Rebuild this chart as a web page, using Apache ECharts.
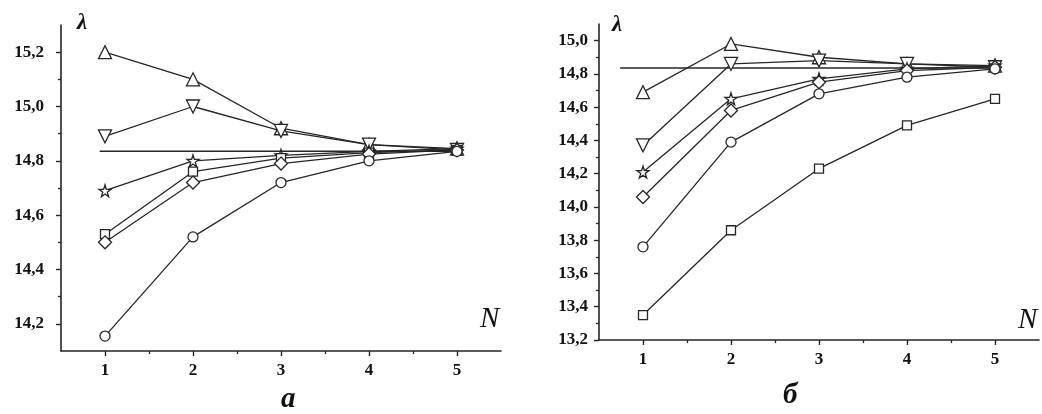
<!DOCTYPE html>
<html>
<head>
<meta charset="utf-8">
<script src="https://cdn.jsdelivr.net/npm/echarts@6/dist/echarts.min.js"></script>
<style>
  html, body { margin: 0; padding: 0; background: #fff; }
  #chart { width: 1042px; height: 414px; }
</style>
</head>
<body>
<div id="chart"></div>
<script>
// Number of layers N
const N = [1, 2, 3, 4, 5];

// Panel "a" values of λ
const aTriUp   = [15.20, 15.10, 14.92, 14.86, 14.845];
const aTriDown = [14.89, 15.00, 14.91, 14.86, 14.84];
const aStar    = [14.69, 14.80, 14.82, 14.835, 14.845];
const aSquare  = [14.53, 14.76, 14.81, 14.83, 14.84];
const aDiamond = [14.50, 14.72, 14.79, 14.825, 14.84];
const aCircle  = [14.155, 14.52, 14.72, 14.80, 14.835];

// Panel "б" values of λ
const bTriUp   = [14.69, 14.98, 14.90, 14.86, 14.85];
const bTriDown = [14.37, 14.86, 14.88, 14.86, 14.84];
const bStar    = [14.21, 14.65, 14.77, 14.83, 14.85];
const bDiamond = [14.06, 14.58, 14.75, 14.82, 14.84];
const bCircle  = [13.76, 14.39, 14.68, 14.78, 14.83];
const bSquare  = [13.35, 13.86, 14.23, 14.49, 14.65];

// Limiting level (horizontal reference line) and where it starts on each panel
const refLevel = 14.835;
const refStartA = 0.94;
const refStartB = 0.74;

// Tick labels
const xTicks = [1, 2, 3, 4, 5];
const xMinor = [1.5, 2.5, 3.5, 4.5];
const aYTicks = [14.2, 14.4, 14.6, 14.8, 15.0, 15.2];
const aYMinor = [14.3, 14.5, 14.7, 14.9, 15.1];
const bYTicks = [13.2, 13.4, 13.6, 13.8, 14.0, 14.2, 14.4, 14.6, 14.8, 15.0];
const bYMinor = [13.3, 13.5, 13.7, 13.9, 14.1, 14.3, 14.5, 14.7, 14.9];

const STAR = 'path://M50,0 L61,35 L98,35 L68,57 L79,91 L50,70 L21,91 L32,57 L2,35 L39,35 Z';
const INK = '#262626';
const FONT = 'Liberation Serif';

const pair = (ys) => N.map((n, i) => [n, ys[i]]);
const comma = (v) => v.toFixed(1).replace('.', ',');

function curve(ys, symbol, size, xi, extra) {
  return Object.assign({
    type: 'line',
    xAxisIndex: xi, yAxisIndex: xi,
    data: pair(ys),
    symbol: symbol,
    symbolSize: size,
    showAllSymbol: true,
    lineStyle: { color: INK, width: 1.3 },
    itemStyle: { color: '#fff', borderColor: INK, borderWidth: 1.3 },
    emphasis: { disabled: true },
    z: 3
  }, extra || {});
}

function refLine(x0, xi) {
  return {
    type: 'line', xAxisIndex: xi, yAxisIndex: xi,
    data: [[x0, refLevel], [5, refLevel]],
    symbol: 'none',
    lineStyle: { color: INK, width: 1.5 },
    z: 2
  };
}

function xAxisMain(gi) {
  return {
    type: 'value', gridIndex: gi, position: 'bottom', min: 0.5, max: 5.5,
    splitLine: { show: false },
    axisLine: { show: true, onZero: false, lineStyle: { color: INK, width: 1.6 } },
    axisTick: { show: true, customValues: xTicks, length: 5, lineStyle: { color: INK, width: 1.4 } },
    axisLabel: { customValues: xTicks, color: '#111', fontFamily: FONT, fontWeight: 'bold', fontSize: 17, margin: 11 }
  };
}
function xAxisMinor(gi) {
  return {
    type: 'value', gridIndex: gi, position: 'bottom', min: 0.5, max: 5.5,
    splitLine: { show: false },
    axisLine: { show: false, onZero: false },
    axisTick: { show: true, customValues: xMinor, length: 3, lineStyle: { color: INK, width: 1.3 } },
    axisLabel: { show: false }
  };
}
function yAxisMain(gi, min, max, ticks, margin) {
  return {
    type: 'value', gridIndex: gi, position: 'left', min: min, max: max,
    splitLine: { show: false },
    axisLine: { show: true, onZero: false, lineStyle: { color: INK, width: 1.6 } },
    axisTick: { show: true, customValues: ticks, length: 5, lineStyle: { color: INK, width: 1.4 } },
    axisLabel: { customValues: ticks, formatter: comma, color: '#111', fontFamily: FONT, fontWeight: 'bold', fontSize: 17, margin: margin }
  };
}
function yAxisMinor(gi, min, max, ticks) {
  return {
    type: 'value', gridIndex: gi, position: 'left', min: min, max: max,
    splitLine: { show: false },
    axisLine: { show: false, onZero: false },
    axisTick: { show: true, customValues: ticks, length: 3, lineStyle: { color: INK, width: 1.3 } },
    axisLabel: { show: false }
  };
}

const chart = echarts.init(document.getElementById('chart'), null, { renderer: 'canvas' });

chart.setOption({
  animation: false,
  backgroundColor: '#fff',
  grid: [
    { left: 61, top: 25, width: 440, height: 326 },
    { left: 599, top: 24, width: 440, height: 316 }
  ],
  xAxis: [xAxisMain(0), xAxisMain(1), xAxisMinor(0), xAxisMinor(1)],
  yAxis: [
    yAxisMain(0, 14.1, 15.3, aYTicks, 17),
    yAxisMain(1, 13.2, 15.1, bYTicks, 11),
    yAxisMinor(0, 14.1, 15.3, aYMinor),
    yAxisMinor(1, 13.2, 15.1, bYMinor)
  ],
  series: [
    refLine(refStartA, 0),
    curve(aTriUp, 'triangle', 13, 0),
    curve(aTriDown, 'triangle', 13, 0, { symbolRotate: 180 }),
    curve(aStar, STAR, 12, 0),
    curve(aSquare, 'rect', 9, 0),
    curve(aDiamond, 'diamond', 13, 0),
    curve(aCircle, 'circle', 10, 0),

    refLine(refStartB, 1),
    curve(bTriUp, 'triangle', 13, 1),
    curve(bTriDown, 'triangle', 13, 1, { symbolRotate: 180 }),
    curve(bStar, STAR, 12, 1),
    curve(bDiamond, 'diamond', 13, 1),
    curve(bCircle, 'circle', 10, 1),
    curve(bSquare, 'rect', 9, 1)
  ],
  graphic: [
    { type: 'text', left: 77, top: 12, style: { text: 'λ', font: 'italic bold 23px "Liberation Serif"', fill: '#111' } },
    { type: 'text', left: 612, top: 14, style: { text: 'λ', font: 'italic bold 23px "Liberation Serif"', fill: '#111' } },
    { type: 'text', left: 480, top: 305, style: { text: 'N', font: 'italic 29px "Liberation Serif"', fill: '#111' } },
    { type: 'text', left: 1018, top: 306, style: { text: 'N', font: 'italic 29px "Liberation Serif"', fill: '#111' } },
    { type: 'text', left: 281, top: 385, style: { text: 'а', font: 'italic bold 29px "Liberation Serif"', fill: '#111' } },
    { type: 'text', left: 783, top: 381, style: { text: 'б', font: 'italic bold 29px "Liberation Serif"', fill: '#111' } }
  ]
});
</script>
</body>
</html>
